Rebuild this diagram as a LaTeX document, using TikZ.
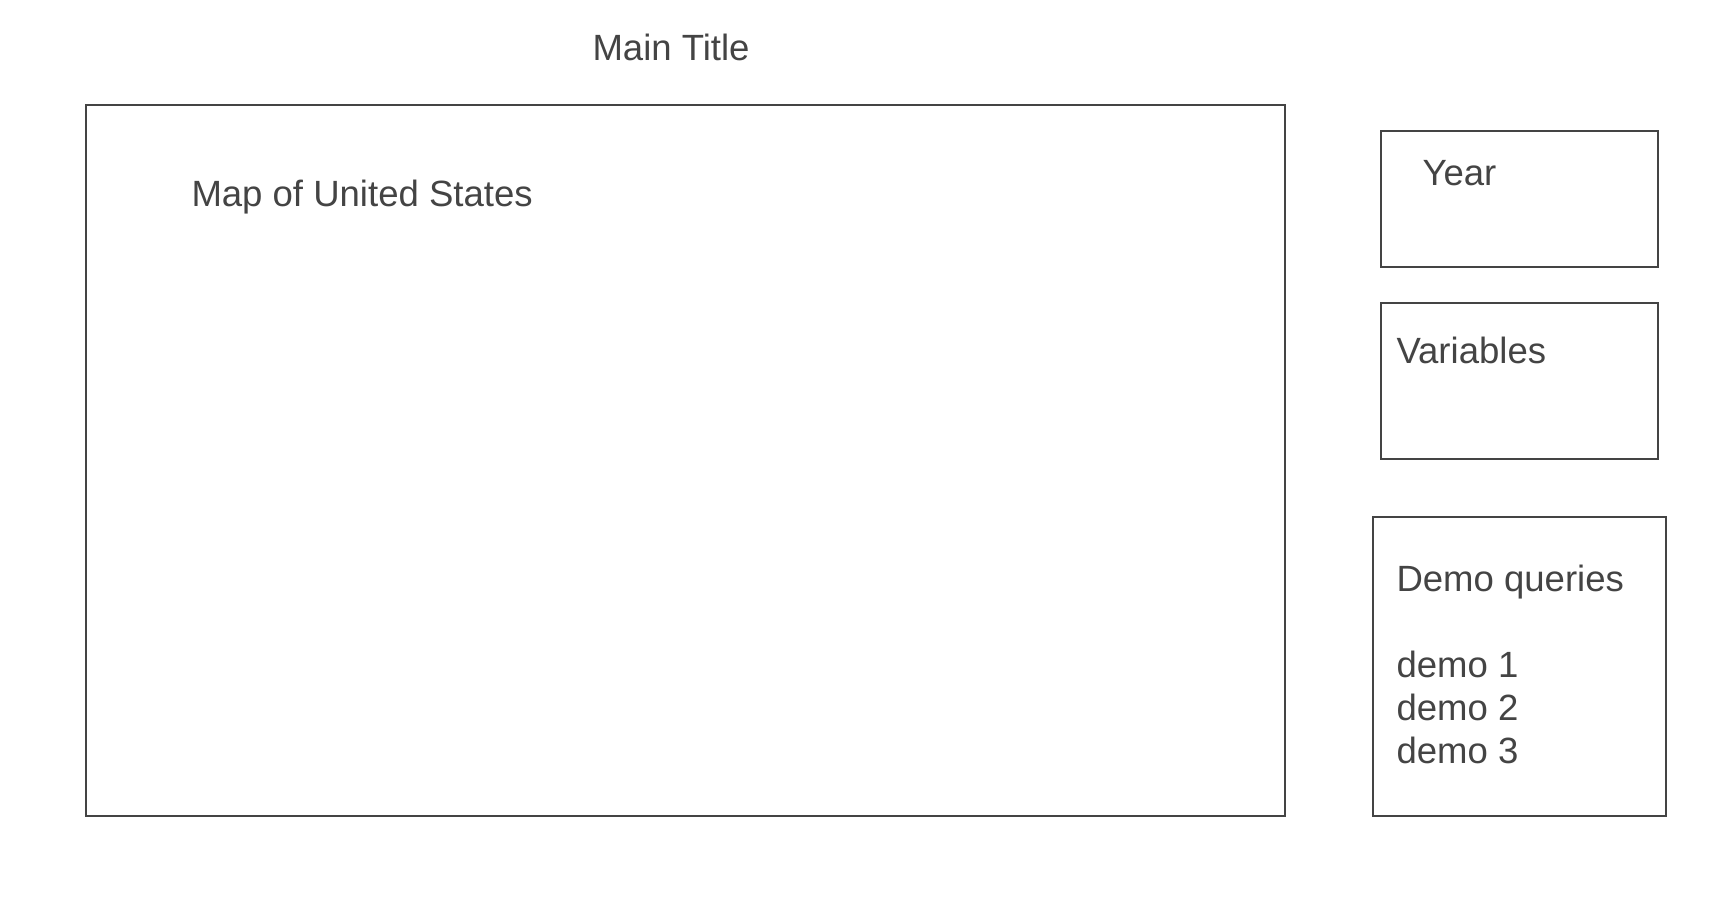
\documentclass[tikz,border=0pt]{standalone}
\usepackage{fontspec}
\setmainfont{Liberation Sans}
\definecolor{sketchgray}{RGB}{68,68,68}

\tikzset{every picture/.style={line width=0.75pt}}
\tikzset{
	panel/.style={rectangle, draw=sketchgray, line width=1.5pt, inner sep=0pt, outer sep=0pt},
	caption/.style={anchor=base west, inner sep=0pt, text=sketchgray, font=\fontsize{27.4}{33}\selectfont}
}

\begin{document}
\begin{tikzpicture}[x=0.75pt,y=0.75pt,yscale=-1,xscale=1]
		
		\useasboundingbox (0,0) rectangle (1734,900);
		
		% panels
		\node [panel, minimum width=898.9pt, minimum height=533.6pt] (mappanel) at (685.75,460.75) {};
		\node [panel, minimum width=207.75pt, minimum height=102pt] (yearpanel) at (1519.5,199) {};
		\node [panel, minimum width=207.75pt, minimum height=117pt] (varpanel) at (1519.5,381) {};
		\node [panel, minimum width=219.75pt, minimum height=224.6pt] (demopanel) at (1519.5,666.75) {};
		
		% texts
		\node [caption] (maintitle) at (592,60) {Main Title};
		\node [caption] (maplabel) at (191,206) {Map of United States};
		\node [caption] (yearlabel) at (1422,185) {Year};
		\node [caption] (varlabel) at (1396,363) {Variables};
		\node [caption] (demolabel) at (1396,591) {Demo queries};
		\node [caption] (demoone) at (1396,677) {demo 1};
		\node [caption] (demotwo) at (1396,720) {demo 2};
		\node [caption] (demothree) at (1396,763) {demo 3};
		
	\end{tikzpicture}
\end{document}
